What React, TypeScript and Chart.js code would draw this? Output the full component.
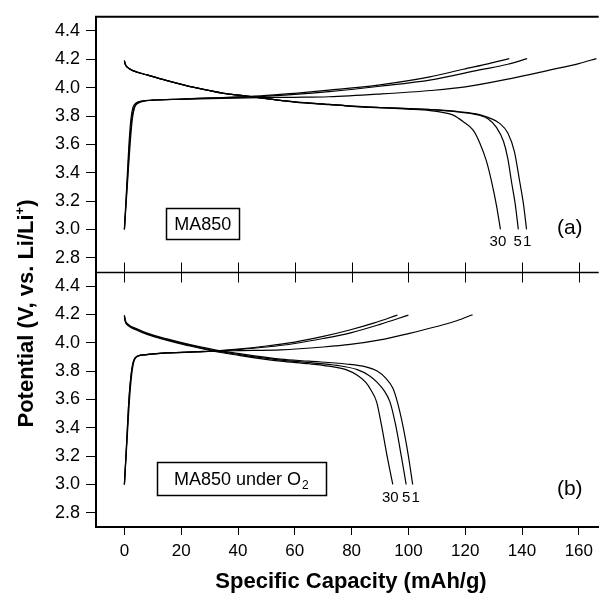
import React, { useEffect, useRef } from 'react';
import { Chart, registerables } from 'chart.js';

Chart.register(...registerables);

const FONT = "'Liberation Sans', Arial, Helvetica, sans-serif";

const xTicks = [0, 20, 40, 60, 80, 100, 120, 140, 160];
const yTicks = [2.8, 3.0, 3.2, 3.4, 3.6, 3.8, 4.0, 4.2, 4.4];

// ---- Panel (a): MA850 ----
const aCh1Cap = [0, 0.8, 1.6, 2.3, 3.0, 4.0, 6.0, 10, 20, 30, 48, 60, 72, 90, 108, 120, 136, 150, 160, 166.2];
const aCh1V = [3.0, 3.3, 3.6, 3.78, 3.86, 3.89, 3.905, 3.912, 3.918, 3.923, 3.93, 3.932, 3.936, 3.955, 3.98, 4.005, 4.064, 4.125, 4.17, 4.205];
const aCh5Cap = [0, 0.9, 1.8, 2.6, 3.4, 4.5, 6.5, 10, 20, 30, 48, 60, 72, 90, 108, 125, 135, 141.8];
const aCh5V = [3.0, 3.3, 3.6, 3.78, 3.86, 3.89, 3.905, 3.912, 3.92, 3.926, 3.937, 3.952, 3.972, 4.01, 4.055, 4.125, 4.165, 4.205];
const aCh30Cap = [0, 1.0, 2.0, 2.8, 3.6, 4.8, 7, 10, 20, 30, 48, 60, 72, 90, 107.6, 119.3, 128, 135.5];
const aCh30V = [3.0, 3.3, 3.6, 3.78, 3.86, 3.89, 3.905, 3.912, 3.92, 3.928, 3.942, 3.96, 3.982, 4.02, 4.076, 4.13, 4.168, 4.205];

const aDis1Cap = [0, 0.3, 1, 3, 8, 15, 25, 35, 41, 48, 60, 72, 80, 90, 100, 108, 118, 125, 128, 132, 135, 137.3, 139.2, 140.5, 141.6];
const aDis1V = [4.19, 4.165, 4.145, 4.12, 4.09, 4.05, 4.0, 3.96, 3.945, 3.928, 3.9, 3.882, 3.87, 3.86, 3.852, 3.845, 3.83, 3.81, 3.79, 3.75, 3.68, 3.55, 3.336, 3.18, 3.0];
const aDis5Cap = [0, 0.3, 1, 3, 8, 15, 25, 35, 41, 48, 60, 72, 80, 90, 100, 108, 118, 125, 128, 131, 133.5, 135, 136.3, 137.6, 138.7];
const aDis5V = [4.19, 4.165, 4.145, 4.12, 4.09, 4.05, 4.0, 3.96, 3.945, 3.928, 3.9, 3.882, 3.87, 3.86, 3.852, 3.845, 3.827, 3.805, 3.78, 3.72, 3.62, 3.5, 3.336, 3.18, 3.0];
const aDis30Cap = [0, 0.3, 1, 3, 8, 15, 25, 35, 41, 48, 60, 72, 80, 90, 100, 107.6, 112, 115.8, 119.3, 122.8, 125.2, 127.5, 129.3, 131, 132.4];
const aDis30V = [4.19, 4.165, 4.145, 4.12, 4.09, 4.05, 4.0, 3.96, 3.945, 3.928, 3.898, 3.88, 3.868, 3.858, 3.848, 3.838, 3.825, 3.806, 3.76, 3.7, 3.606, 3.48, 3.336, 3.17, 3.0];

// ---- Panel (b): MA850 under O2 ----
const bCh1Cap = [0, 0.8, 1.6, 2.4, 3.2, 4.5, 7, 15, 25, 31.4, 40, 55, 70, 79.5, 90, 100, 110, 117, 122.6];
const bCh1V = [3.0, 3.3, 3.6, 3.78, 3.87, 3.905, 3.915, 3.928, 3.936, 3.94, 3.944, 3.95, 3.97, 3.988, 4.02, 4.065, 4.115, 4.155, 4.198];
const bCh5Cap = [0, 0.9, 1.8, 2.6, 3.4, 4.8, 7.5, 15, 25, 31.4, 40, 50, 60, 70, 80, 90, 100];
const bCh5V = [3.0, 3.3, 3.6, 3.78, 3.87, 3.905, 3.915, 3.928, 3.935, 3.94, 3.952, 3.97, 3.995, 4.03, 4.072, 4.13, 4.195];
const bCh30Cap = [0, 0.8, 1.6, 2.4, 3.2, 4.5, 7, 15, 25, 31.4, 40, 50, 60, 70, 79, 88, 96.1];
const bCh30V = [3.0, 3.3, 3.6, 3.78, 3.87, 3.905, 3.915, 3.928, 3.937, 3.942, 3.955, 3.977, 4.005, 4.045, 4.088, 4.14, 4.195];

const bDis1Cap = [0, 0.3, 1.5, 4, 8, 15, 22, 31.4, 40, 55, 65, 78, 85, 89, 92, 94.5, 96.1, 98, 100, 101.5];
const bDis1V = [4.195, 4.16, 4.128, 4.102, 4.068, 4.027, 3.992, 3.952, 3.925, 3.885, 3.87, 3.85, 3.83, 3.8, 3.75, 3.68, 3.583, 3.42, 3.2, 3.0];
const bDis5Cap = [0, 0.3, 1.5, 4, 8, 15, 22, 31.4, 40, 55, 65, 75, 82, 86, 89, 91.5, 93.5, 95.5, 97.5, 99.2];
const bDis5V = [4.19, 4.155, 4.123, 4.097, 4.063, 4.022, 3.987, 3.946, 3.918, 3.877, 3.86, 3.84, 3.81, 3.77, 3.72, 3.66, 3.583, 3.42, 3.2, 3.0];
const bDis30Cap = [0, 0.3, 1.5, 4, 8, 15, 22, 31.4, 40, 55, 65, 72, 78, 82, 85, 87, 88.8, 90.5, 92.5, 94.5];
const bDis30V = [4.185, 4.15, 4.118, 4.092, 4.058, 4.017, 3.982, 3.94, 3.912, 3.87, 3.852, 3.835, 3.81, 3.77, 3.72, 3.66, 3.583, 3.42, 3.2, 3.0];

// ---- Annotation texts ----
const panelATag = '(a)';
const panelBTag = '(b)';
const panelABox = 'MA850';
const panelBBox = 'MA850 under O';
const cycleLabels = ['30', '5', '1'];
const aCycleLabelCap = [131.5, 138.5, 141.8];
const bCycleLabelCap = [93.6, 99.2, 102.6];

function pts(cap: number[], v: number[]) {
  return cap.map((c, i) => ({ x: c, y: v[i] }));
}

function line(cap: number[], v: number[], axis: string) {
  return {
    data: pts(cap, v),
    yAxisID: axis,
    borderColor: '#000',
    borderWidth: 1.2,
    pointRadius: 0,
    fill: false,
    cubicInterpolationMode: 'monotone' as const,
  };
}

const overlay = {
  id: 'overlay',
  afterDraw(chart: any) {
    const ctx: CanvasRenderingContext2D = chart.ctx;
    const { left, right, top } = chart.chartArea;
    const x = chart.scales.x;
    const ya = chart.scales.yA;
    const yb = chart.scales.yB;
    ctx.save();
    ctx.strokeStyle = '#000';
    ctx.fillStyle = '#000';

    // top frame
    ctx.lineWidth = 2;
    ctx.beginPath();
    ctx.moveTo(left - 1, top);
    ctx.lineTo(right, top);
    ctx.stroke();

    // separator with crossing ticks
    const sy = Math.round(ya.bottom) + 0.5;
    ctx.lineWidth = 1.3;
    ctx.beginPath();
    ctx.moveTo(left, sy);
    ctx.lineTo(right, sy);
    ctx.stroke();
    ctx.lineWidth = 1;
    ctx.beginPath();
    for (const t of xTicks) {
      const px = Math.round(x.getPixelForValue(t)) + 0.5;
      ctx.moveTo(px, sy - 10);
      ctx.lineTo(px, sy + 10);
    }
    ctx.stroke();

    // panel tags
    ctx.font = `21px ${FONT}`;
    ctx.textAlign = 'center';
    ctx.textBaseline = 'middle';
    ctx.fillText(panelATag, x.getPixelForValue(156.8), ya.getPixelForValue(3.01));
    ctx.fillText(panelBTag, x.getPixelForValue(156.8), yb.getPixelForValue(2.97));

    // cycle labels
    ctx.font = `15px ${FONT}`;
    cycleLabels.forEach((s, i) => {
      ctx.fillText(s, x.getPixelForValue(aCycleLabelCap[i]), ya.getPixelForValue(2.915));
      ctx.fillText(s, x.getPixelForValue(bCycleLabelCap[i]), yb.getPixelForValue(2.905));
    });

    // boxed labels
    ctx.font = `18px ${FONT}`;
    {
      const cx = x.getPixelForValue(27.6);
      const cy = ya.getPixelForValue(3.04);
      const w = ctx.measureText(panelABox).width + 16;
      const h = 31;
      ctx.lineWidth = 1.5;
      ctx.strokeRect(Math.round(cx - w / 2) + 0.5, Math.round(cy - h / 2) + 0.5, Math.round(w), h);
      ctx.fillText(panelABox, cx, cy + 1);
    }
    {
      const cx = x.getPixelForValue(41.2);
      const cy = yb.getPixelForValue(3.04);
      ctx.font = `18px ${FONT}`;
      const wMain = ctx.measureText(panelBBox).width;
      ctx.font = `12px ${FONT}`;
      const wSub = ctx.measureText('2').width;
      const tw = wMain + wSub + 1;
      const w = tw + 34;
      const h = 33;
      ctx.lineWidth = 1.5;
      ctx.strokeRect(Math.round(cx - w / 2) + 0.5, Math.round(cy - h / 2) + 0.5, Math.round(w), h);
      ctx.textAlign = 'left';
      ctx.font = `18px ${FONT}`;
      const sx = cx - tw / 2;
      ctx.fillText(panelBBox, sx, cy + 1);
      ctx.font = `12px ${FONT}`;
      ctx.fillText('2', sx + wMain + 1, cy + 7);
    }

    // x axis title
    ctx.textAlign = 'center';
    ctx.textBaseline = 'alphabetic';
    ctx.font = `bold 22px ${FONT}`;
    ctx.fillText('Specific Capacity (mAh/g)', 351, 588);

    // y axis title (rotated, with superscript)
    const main = 'Potential (V, vs. Li/Li';
    const sup = '+';
    const tail = ')';
    ctx.translate(33, 313.5);
    ctx.rotate(-Math.PI / 2);
    ctx.textAlign = 'left';
    ctx.font = `bold 22px ${FONT}`;
    const wm = ctx.measureText(main).width;
    const wt = ctx.measureText(tail).width;
    ctx.font = `bold 13px ${FONT}`;
    const ws = ctx.measureText(sup).width;
    const total = wm + ws + wt;
    let u = -total / 2;
    ctx.font = `bold 22px ${FONT}`;
    ctx.fillText(main, u, 0);
    u += wm;
    ctx.font = `bold 13px ${FONT}`;
    ctx.fillText(sup, u, -9);
    u += ws;
    ctx.font = `bold 22px ${FONT}`;
    ctx.fillText(tail, u, 0);

    ctx.restore();
  },
};

const yCommon = (): any => ({
  type: 'linear',
  position: 'left',
  stack: 'v',
  stackWeight: 1,
  min: 2.7,
  max: 4.5,
  afterBuildTicks: (s: any) => {
    s.ticks = yTicks.map((v) => ({ value: v }));
  },
  afterFit: (s: any) => {
    s.width = 96;
  },
  ticks: {
    font: { size: 18, family: FONT },
    color: '#000',
    padding: 6,
    autoSkip: false,
    callback: (v: any) => Number(v).toFixed(1),
  },
  grid: {
    display: true,
    drawOnChartArea: false,
    drawTicks: true,
    tickLength: 10,
    color: '#000',
    lineWidth: 1,
  },
  border: { display: true, color: '#000', width: 2 },
});

export default function App() {
  const ref = useRef<HTMLCanvasElement | null>(null);

  useEffect(() => {
    if (!ref.current) return;
    const chart = new Chart(ref.current, {
      type: 'line',
      data: {
        datasets: [
          line(aCh1Cap, aCh1V, 'yA'),
          line(aCh5Cap, aCh5V, 'yA'),
          line(aCh30Cap, aCh30V, 'yA'),
          line(aDis1Cap, aDis1V, 'yA'),
          line(aDis5Cap, aDis5V, 'yA'),
          line(aDis30Cap, aDis30V, 'yA'),
          line(bCh1Cap, bCh1V, 'yB'),
          line(bCh5Cap, bCh5V, 'yB'),
          line(bCh30Cap, bCh30V, 'yB'),
          line(bDis1Cap, bDis1V, 'yB'),
          line(bDis5Cap, bDis5V, 'yB'),
          line(bDis30Cap, bDis30V, 'yB'),
        ] as any,
      },
      options: {
        responsive: false,
        maintainAspectRatio: false,
        animation: false,
        layout: { padding: { left: 0, right: 0, top: 14, bottom: 0 } },
        plugins: {
          legend: { display: false },
          tooltip: { enabled: false },
        },
        scales: {
          x: {
            type: 'linear',
            min: -10,
            max: 167,
            afterBuildTicks: (s: any) => {
              s.ticks = xTicks.map((v) => ({ value: v }));
            },
            afterFit: (s: any) => {
              s.height = 67;
            },
            ticks: {
              font: { size: 17, family: FONT },
              color: '#000',
              padding: 6,
              maxRotation: 0,
              autoSkip: false,
            },
            grid: {
              display: true,
              drawOnChartArea: false,
              drawTicks: true,
              tickLength: 8,
              color: '#000',
              lineWidth: 1,
            },
            border: { display: true, color: '#000', width: 2 },
          },
          yB: yCommon(),
          yA: yCommon(),
        } as any,
      },
      plugins: [overlay],
    });
    return () => chart.destroy();
  }, []);

  return (
    <div style={{ position: 'absolute', left: 0, top: 0, width: 599, height: 594, background: '#fff' }}>
      <canvas ref={ref} width={599} height={594} style={{ display: 'block' }} />
    </div>
  );
}
